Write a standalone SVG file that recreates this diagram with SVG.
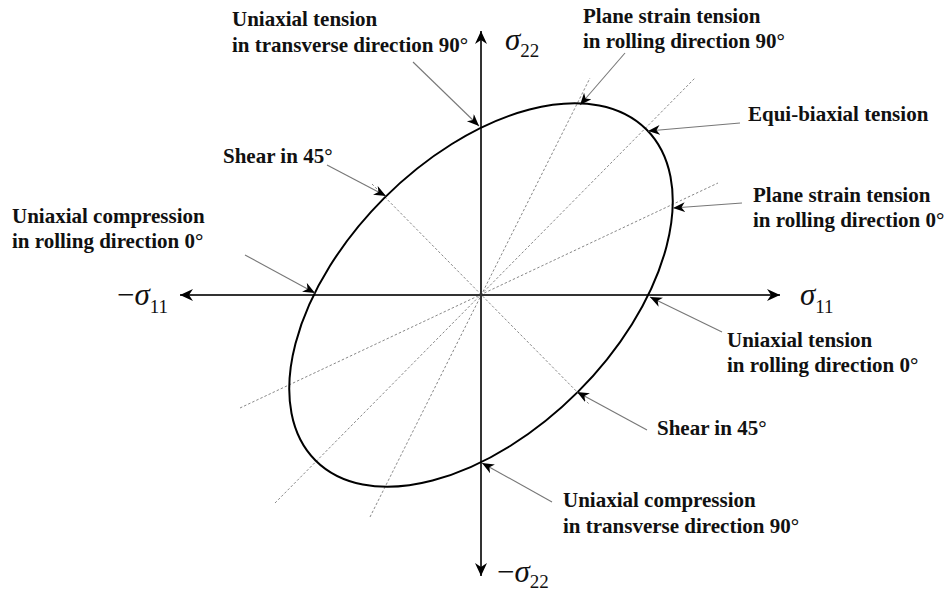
<svg xmlns="http://www.w3.org/2000/svg" width="944" height="594" viewBox="0 0 944 594">
<style>
.lbl{font-family:"Liberation Serif","Times New Roman",serif;font-weight:bold;font-size:21px;fill:#111}
.sig{font-family:"Liberation Serif","Times New Roman",serif;font-style:italic;font-size:31px;fill:#111}
.sub{font-family:"Liberation Serif","Times New Roman",serif;font-style:normal;font-size:19px;fill:#111}
.min{font-family:"Liberation Serif","Times New Roman",serif;font-style:normal;font-size:31px;fill:#111}
.axis{stroke:#333;stroke-width:2;fill:none}
.dash{stroke:#888;stroke-width:1;stroke-dasharray:2.5 2;fill:none}
.ann{stroke:#777;stroke-width:1.1;fill:none}
</style>
<defs>
<marker id="ah" markerUnits="userSpaceOnUse" markerWidth="14" markerHeight="12" refX="12" refY="5" orient="auto">
<path d="M0,0 L12,5 L0,10 L3.5,5 Z" fill="#000"/>
</marker>
<marker id="ax" markerUnits="userSpaceOnUse" markerWidth="16" markerHeight="14" refX="13" refY="6" orient="auto">
<path d="M0,0 L13,6 L0,12 L4,6 Z" fill="#000"/>
</marker>
</defs>

<g id="guides">
<line class="dash" x1="370" y1="517" x2="590" y2="78"/>
<line class="dash" x1="275" y1="503" x2="695" y2="78"/>
<line class="dash" x1="240" y1="408" x2="718" y2="183"/>
<line class="dash" x1="372" y1="184" x2="590" y2="405"/>
</g>

<g id="axes">
<line class="axis" x1="481" y1="295" x2="780" y2="295" marker-end="url(#ax)"/>
<line class="axis" x1="481" y1="295" x2="180" y2="295" marker-end="url(#ax)"/>
<line class="axis" x1="481" y1="295" x2="481" y2="31" marker-end="url(#ax)"/>
<line class="axis" x1="481" y1="295" x2="481" y2="576" marker-end="url(#ax)"/>
</g>

<g id="yield-locus">
<ellipse cx="481" cy="295" rx="234" ry="137" transform="rotate(-45 481 295)" fill="none" stroke="#000" stroke-width="2"/>
</g>

<g id="axis-labels">
<text x="800" y="305" class="sig">σ<tspan class="sub" dy="8">11</tspan></text>
<text x="117" y="305" class="sig"><tspan class="min">−</tspan>σ<tspan class="sub" dy="8">11</tspan></text>
<text x="505" y="50" class="sig">σ<tspan class="sub" dy="7">22</tspan></text>
<text x="497" y="582" class="sig"><tspan class="min">−</tspan>σ<tspan class="sub" dy="6">22</tspan></text>
</g>

<g id="connectors">
<line class="ann" x1="413" y1="62" x2="479" y2="126" marker-end="url(#ah)"/>
<line class="ann" x1="327" y1="165" x2="386" y2="196" marker-end="url(#ah)"/>
<line class="ann" x1="245" y1="255" x2="315" y2="293" marker-end="url(#ah)"/>
<line class="ann" x1="625" y1="53" x2="580" y2="105" marker-end="url(#ah)"/>
<line class="ann" x1="740" y1="123" x2="648" y2="131" marker-end="url(#ah)"/>
<line class="ann" x1="742" y1="203" x2="673" y2="208" marker-end="url(#ah)"/>
<line class="ann" x1="722" y1="332" x2="650" y2="297" marker-end="url(#ah)"/>
<line class="ann" x1="647" y1="430" x2="577" y2="392" marker-end="url(#ah)"/>
<line class="ann" x1="552" y1="502" x2="482" y2="463" marker-end="url(#ah)"/>
</g>

<g id="n-ut90"><text class="lbl" x="232" y="26">Uniaxial tension</text><text class="lbl" x="232" y="52">in transverse direction 90°</text></g>
<g id="n-shear-ul"><text class="lbl" x="223" y="163">Shear in 45°</text></g>
<g id="n-uc0"><text class="lbl" x="12" y="223">Uniaxial compression</text><text class="lbl" x="12" y="248">in rolling direction 0°</text></g>
<g id="n-ps90"><text class="lbl" x="583" y="23">Plane strain tension</text><text class="lbl" x="583" y="48">in rolling direction 90°</text></g>
<g id="n-equi"><text class="lbl" x="748" y="121">Equi-biaxial tension</text></g>
<g id="n-ps0"><text class="lbl" x="753" y="202">Plane strain tension</text><text class="lbl" x="753" y="227">in rolling direction 0°</text></g>
<g id="n-ut0"><text class="lbl" x="727" y="347">Uniaxial tension</text><text class="lbl" x="727" y="372">in rolling direction 0°</text></g>
<g id="n-shear-lr"><text class="lbl" x="657" y="435">Shear in 45°</text></g>
<g id="n-uc90"><text class="lbl" x="563" y="507">Uniaxial compression</text><text class="lbl" x="563" y="533">in transverse direction 90°</text></g>
</svg>
